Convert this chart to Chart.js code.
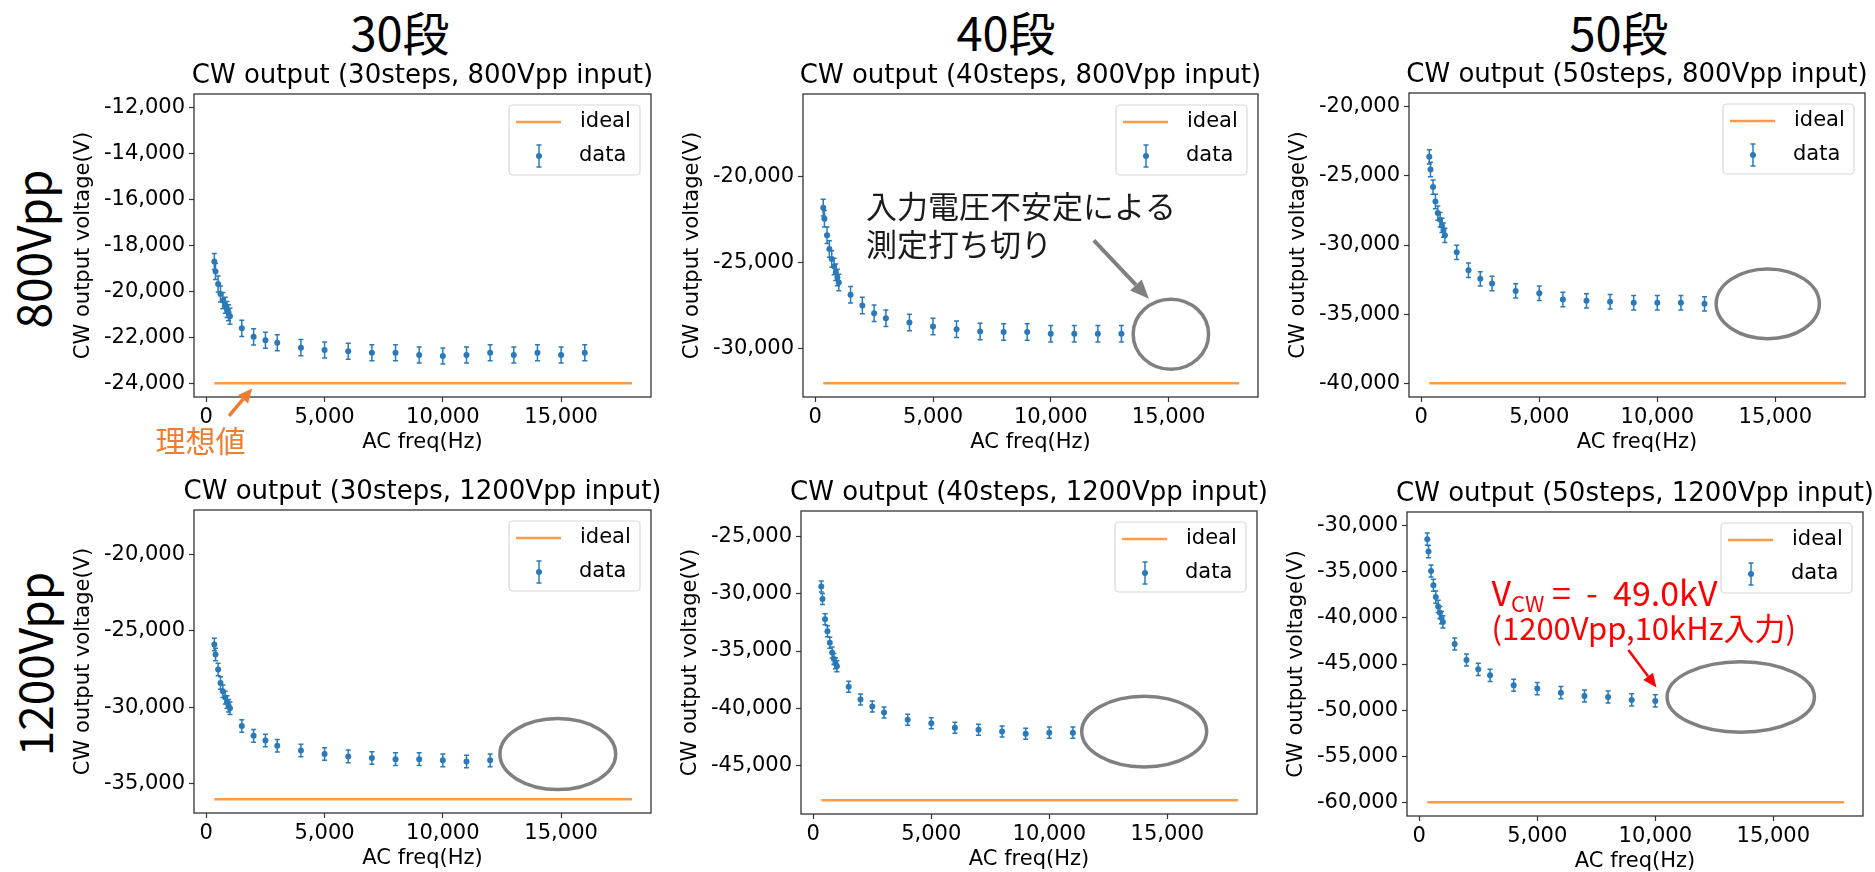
<!DOCTYPE html>
<html>
<head>
<meta charset="utf-8">
<script src="https://cdn.jsdelivr.net/npm/chart.js@4.4.1/dist/chart.umd.min.js"></script>
<style>
  body { margin: 0; background: #fff; width: 1875px; height: 872px; overflow: hidden; position: relative; font-family: "Noto Sans CJK JP", sans-serif; }
  .head { position: absolute; font-size: 47px; line-height: 1; color: #000; transform: translate(-50%, -50%); white-space: nowrap; }
  .row { position: absolute; font-size: 46px; line-height: 1; color: #000; transform: translate(-50%, -50%) rotate(-90deg); white-space: nowrap; }
  canvas { position: absolute; }
</style>
</head>
<body>
<div class="head" style="left:400px;top:30px">30段</div>
<div class="head" style="left:1006px;top:30px">40段</div>
<div class="head" style="left:1619px;top:30px">50段</div>
<div class="row" style="left:31px;top:249px">800Vpp</div>
<div class="row" style="left:33px;top:664px">1200Vpp</div>

<canvas id="c1"></canvas>
<canvas id="c2"></canvas>
<canvas id="c3"></canvas>
<canvas id="c4"></canvas>
<canvas id="c5"></canvas>
<canvas id="c6"></canvas>

<script>
// ---- data ----
const freq30_800 = [340, 390, 500, 600, 700, 800, 875, 940, 1000, 1500, 2000, 2500, 3000, 4000, 5000, 6000, 7000, 8000, 9000, 10000, 11000, 12000, 13000, 14000, 15000, 16000];
const volt30_800 = [-18700, -19130, -19680, -20110, -20400, -20600, -20790, -20930, -21080, -21610, -21980, -22130, -22240, -22450, -22550, -22610, -22670, -22670, -22770, -22810, -22770, -22670, -22770, -22670, -22770, -22670];

const freq40_800 = [340, 390, 500, 600, 700, 800, 875, 940, 1000, 1500, 2000, 2500, 3000, 4000, 5000, 6000, 7000, 8000, 9000, 10000, 11000, 12000, 13000];
const volt40_800 = [-21800, -22450, -23400, -24200, -24790, -25220, -25560, -25860, -26150, -26860, -27480, -27930, -28220, -28470, -28700, -28860, -28990, -29030, -29030, -29130, -29130, -29130, -29130];

const freq50_800 = [340, 390, 500, 600, 700, 800, 875, 940, 1000, 1500, 2000, 2500, 3000, 4000, 5000, 6000, 7000, 8000, 9000, 10000, 11000, 12000];
const volt50_800 = [-23620, -24540, -25810, -26850, -27690, -28170, -28580, -28920, -29300, -30530, -31830, -32450, -32790, -33320, -33490, -33940, -34040, -34110, -34180, -34180, -34180, -34260];

const freq30_1200 = [340, 390, 500, 600, 700, 800, 875, 940, 1000, 1500, 2000, 2500, 3000, 4000, 5000, 6000, 7000, 8000, 9000, 10000, 11000, 12000];
const volt30_1200 = [-25890, -26540, -27520, -28410, -28940, -29360, -29640, -29890, -30055, -31210, -31860, -32160, -32510, -32810, -33050, -33200, -33310, -33380, -33380, -33460, -33530, -33460];

const freq40_1200 = [340, 390, 500, 600, 700, 800, 875, 940, 1000, 1500, 2000, 2500, 3000, 4000, 5000, 6000, 7000, 8000, 9000, 10000, 11000];
const volt40_1200 = [-29380, -30460, -32230, -33270, -34280, -35120, -35700, -36070, -36330, -38120, -39220, -39830, -40350, -40980, -41300, -41680, -41850, -42020, -42200, -42110, -42110];

const freq50_1200 = [340, 390, 500, 600, 700, 800, 875, 940, 1000, 1500, 2000, 2500, 3000, 4000, 5000, 6000, 7000, 8000, 9000, 10000];
const volt50_1200 = [-31450, -32800, -34900, -36450, -37740, -38750, -39430, -39970, -40430, -42830, -44570, -45580, -46230, -47310, -47670, -48110, -48470, -48580, -48900, -49010];

// error bar half heights (V)
const err30_800 = 350, err40_800 = 480, err50_800 = 520;
const err30_1200 = 410, err40_1200 = 480, err50_1200 = 660;

// ideal line
const idealFreq = [340, 18000];
const ideal30_800 = -24000, ideal40_800 = -32000, ideal50_800 = -40000;
const ideal30_1200 = -36000, ideal40_1200 = -48000, ideal50_1200 = -60000;

// ticks
const xTicks = [0, 5000, 10000, 15000];
const yTicks30_800 = [-24000, -22000, -20000, -18000, -16000, -14000, -12000];
const yTicks40_800 = [-30000, -25000, -20000];
const yTicks50_800 = [-40000, -35000, -30000, -25000, -20000];
const yTicks30_1200 = [-35000, -30000, -25000, -20000];
const yTicks40_1200 = [-45000, -40000, -35000, -30000, -25000];
const yTicks50_1200 = [-60000, -55000, -50000, -45000, -40000, -35000, -30000];

const BLUE = "#2a7ab9";
const ORANGE = "#ff9b45";
const LATIN = "DejaVu Sans";
const CJK = "Noto Sans CJK JP";

function fmt(v) {
  return v === 0 ? "0" : v.toLocaleString("en-US");
}

function drawArrow(ctx, x1, y1, x2, y2, color, w, headLen, headW) {
  const a = Math.atan2(y2 - y1, x2 - x1);
  const bx = x2 - headLen * Math.cos(a), by = y2 - headLen * Math.sin(a);
  ctx.strokeStyle = color;
  ctx.lineWidth = w;
  ctx.beginPath(); ctx.moveTo(x1, y1); ctx.lineTo(bx, by); ctx.stroke();
  ctx.fillStyle = color;
  ctx.beginPath();
  ctx.moveTo(x2, y2);
  ctx.lineTo(bx + headW / 2 * Math.sin(a), by - headW / 2 * Math.cos(a));
  ctx.lineTo(bx - headW / 2 * Math.sin(a), by + headW / 2 * Math.cos(a));
  ctx.closePath(); ctx.fill();
}

// error bars under the points
const errorBars = {
  id: "errorBars",
  beforeDatasetsDraw(chart) {
    const ctx = chart.ctx, x = chart.scales.x, y = chart.scales.y;
    const err = chart.options.plugins.errorBars.err;
    const ds = chart.data.datasets[1];
    ctx.save();
    ctx.strokeStyle = BLUE;
    ctx.lineWidth = 1.5;
    ds.data.forEach(p => {
      const px = x.getPixelForValue(p.x);
      const top = y.getPixelForValue(p.y + err), bot = y.getPixelForValue(p.y - err);
      ctx.beginPath();
      ctx.moveTo(px, top); ctx.lineTo(px, bot);
      ctx.moveTo(px - 2.5, top); ctx.lineTo(px + 2.5, top);
      ctx.moveTo(px - 2.5, bot); ctx.lineTo(px + 2.5, bot);
      ctx.stroke();
    });
    ctx.restore();
  }
};

// frame, title, legend, notes
const decor = {
  id: "decor",
  afterDraw(chart) {
    const ctx = chart.ctx, a = chart.chartArea, o = chart.options.plugins.decor;
    const x = chart.scales.x, y = chart.scales.y;
    ctx.save();
    ctx.strokeStyle = "#333";
    ctx.lineWidth = 1.3;
    ctx.strokeRect(a.left, a.top, a.right - a.left, a.bottom - a.top);

    ctx.fillStyle = "#000";
    ctx.font = "26px '" + LATIN + "'";
    ctx.textAlign = "center";
    ctx.textBaseline = "middle";
    ctx.fillText(o.title, (a.left + a.right) / 2, a.top - 18);

    // legend
    const lx = a.right - 142, ly = a.top + 11;
    ctx.fillStyle = "rgba(255,255,255,0.8)";
    ctx.strokeStyle = "#d8d8d8";
    ctx.lineWidth = 1.2;
    ctx.beginPath();
    ctx.roundRect(lx, ly, 131, 70, 4);
    ctx.fill(); ctx.stroke();
    ctx.strokeStyle = ORANGE;
    ctx.lineWidth = 2.5;
    ctx.beginPath(); ctx.moveTo(lx + 7, ly + 17); ctx.lineTo(lx + 52, ly + 17); ctx.stroke();
    ctx.strokeStyle = BLUE;
    ctx.lineWidth = 1.5;
    const ex = lx + 30, ey = ly + 51;
    ctx.beginPath();
    ctx.moveTo(ex, ey - 11); ctx.lineTo(ex, ey + 11);
    ctx.moveTo(ex - 2.5, ey - 11); ctx.lineTo(ex + 2.5, ey - 11);
    ctx.moveTo(ex - 2.5, ey + 11); ctx.lineTo(ex + 2.5, ey + 11);
    ctx.stroke();
    ctx.fillStyle = BLUE;
    ctx.beginPath(); ctx.arc(ex, ey, 3, 0, Math.PI * 2); ctx.fill();
    ctx.fillStyle = "#000";
    ctx.font = "21px '" + LATIN + "'";
    ctx.textAlign = "left";
    ctx.fillText("ideal", lx + 71, ly + 17);
    ctx.fillText("data", lx + 70, ly + 51);

    (o.notes || []).forEach(n => {
      if (n.type === "ellipse") {
        const cx = x.getPixelForValue(n.x), cy = y.getPixelForValue(n.y);
        const rx = Math.abs(x.getPixelForValue(n.x + n.rx) - cx);
        const ry = Math.abs(y.getPixelForValue(n.y + n.ry) - cy);
        ctx.strokeStyle = "#808080";
        ctx.lineWidth = 3.5;
        ctx.beginPath(); ctx.ellipse(cx, cy, rx, ry, 0, 0, Math.PI * 2); ctx.stroke();
      } else if (n.type === "arrow") {
        drawArrow(ctx, x.getPixelForValue(n.x1), y.getPixelForValue(n.y1),
          x.getPixelForValue(n.x2), y.getPixelForValue(n.y2), n.color, n.w, n.head, n.headW);
      } else if (n.type === "text") {
        ctx.fillStyle = n.color;
        ctx.font = n.size + "px '" + CJK + "'";
        ctx.textAlign = n.align;
        ctx.textBaseline = "middle";
        ctx.fillText(n.text, x.getPixelForValue(n.x), y.getPixelForValue(n.y));
      } else if (n.type === "vcw") {
        let px = x.getPixelForValue(n.x);
        const py = y.getPixelForValue(n.y);
        ctx.fillStyle = n.color;
        ctx.textAlign = "left";
        ctx.textBaseline = "middle";
        ctx.font = n.size + "px '" + CJK + "'";
        ctx.fillText("V", px, py);
        px += ctx.measureText("V").width;
        ctx.font = Math.round(n.size * 0.66) + "px '" + CJK + "'";
        ctx.fillText("CW", px, py + 10);
        px += ctx.measureText("CW").width;
        ctx.font = n.size + "px '" + CJK + "'";
        ctx.fillText(" =  -  49.0kV", px, py);
      }
    });
    ctx.restore();
  }
};

function makePanel(id, box, freq, volt, err, ideal, yRange, yTicks, title, notes) {
  const cv = document.getElementById(id);
  const padTop = 45, yW = 150, xH = 65, padR = 10;
  cv.width = box.r - box.l + yW + padR;
  cv.height = box.b - box.t + padTop + xH;
  cv.style.left = (box.l - yW) + "px";
  cv.style.top = (box.t - padTop) + "px";
  const tickFont = { family: LATIN, size: 21 };
  new Chart(cv.getContext("2d"), {
    type: "scatter",
    data: {
      datasets: [
        {
          label: "ideal",
          data: idealFreq.map(f => ({ x: f, y: ideal })),
          showLine: true,
          borderColor: ORANGE,
          borderWidth: 2.5,
          pointRadius: 0
        },
        {
          label: "data",
          data: freq.map((f, i) => ({ x: f, y: volt[i] })),
          pointRadius: 3,
          pointBackgroundColor: BLUE,
          pointBorderWidth: 0,
          borderColor: BLUE
        }
      ]
    },
    options: {
      responsive: false,
      animation: false,
      devicePixelRatio: 1,
      layout: { padding: { left: 0, top: padTop, right: padR, bottom: 0 } },
      plugins: {
        legend: { display: false },
        tooltip: { enabled: false },
        errorBars: { err: err },
        decor: { title: title, notes: notes }
      },
      scales: {
        x: {
          type: "linear",
          min: -520,
          max: 18800,
          afterBuildTicks: s => { s.ticks = xTicks.map(v => ({ value: v })); },
          afterFit: s => { s.height = xH; },
          grid: { drawOnChartArea: false, drawTicks: true, tickLength: 5, color: "#333", tickWidth: 1.2 },
          border: { display: false },
          ticks: { font: tickFont, color: "#000", padding: 3, maxRotation: 0, autoSkip: false, callback: fmt },
          title: { display: true, text: "AC freq(Hz)", font: tickFont, color: "#000", padding: { top: 0, bottom: 7 } }
        },
        y: {
          type: "linear",
          min: yRange[0],
          max: yRange[1],
          afterBuildTicks: s => { s.ticks = yTicks.map(v => ({ value: v })); },
          afterFit: s => { s.width = yW; },
          grid: { drawOnChartArea: false, drawTicks: true, tickLength: 5, color: "#333", tickWidth: 1.2 },
          border: { display: false },
          ticks: { font: tickFont, color: "#000", padding: 4, autoSkip: false, callback: fmt },
          title: { display: true, text: "CW output voltage(V)", font: tickFont, color: "#000", padding: { top: 27, bottom: 0 } }
        }
      }
    },
    plugins: [errorBars, decor]
  });
}

makePanel("c1", { l: 194, t: 94, r: 651, b: 397 }, freq30_800, volt30_800, err30_800, ideal30_800,
  [-24600, -11400], yTicks30_800, "CW output (30steps, 800Vpp input)", [
    { type: "arrow", x1: 961, y1: -25420, x2: 1940, y2: -24230, color: "#ed7d31", w: 3.5, head: 14, headW: 13 },
    { type: "text", text: "理想値", x: -250, y: -26500, size: 30, color: "#ed7d31", align: "center" }
  ]);
makePanel("c2", { l: 803, t: 94, r: 1258, b: 397 }, freq40_800, volt40_800, err40_800, ideal40_800,
  [-32800, -15200], yTicks40_800, "CW output (40steps, 800Vpp input)", [
    { type: "text", text: "入力電圧不安定による", x: 2150, y: -21730, size: 31, color: "#1a1a1a", align: "left" },
    { type: "text", text: "測定打ち切り", x: 2150, y: -23950, size: 31, color: "#1a1a1a", align: "left" },
    { type: "arrow", x1: 11830, y1: -23700, x2: 14170, y2: -27090, color: "#808080", w: 4, head: 19, headW: 16 },
    { type: "ellipse", x: 15100, y: -29150, rx: 1600, ry: 2035 }
  ]);
makePanel("c3", { l: 1409, t: 93, r: 1865, b: 397 }, freq50_800, volt50_800, err50_800, ideal50_800,
  [-41000, -19000], yTicks50_800, "CW output (50steps, 800Vpp input)", [
    { type: "ellipse", x: 14680, y: -34255, rx: 2186, ry: 2524 }
  ]);
makePanel("c4", { l: 194, t: 510, r: 651, b: 813 }, freq30_1200, volt30_1200, err30_1200, ideal30_1200,
  [-36900, -17100], yTicks30_1200, "CW output (30steps, 1200Vpp input)", [
    { type: "ellipse", x: 14860, y: -33050, rx: 2447, ry: 2320 }
  ]);
makePanel("c5", { l: 801, t: 511, r: 1257, b: 814 }, freq40_1200, volt40_1200, err40_1200, ideal40_1200,
  [-49200, -22800], yTicks40_1200, "CW output (40steps, 1200Vpp input)", [
    { type: "ellipse", x: 14020, y: -42020, rx: 2646, ry: 3078 }
  ]);
makePanel("c6", { l: 1407, t: 512, r: 1863, b: 816 }, freq50_1200, volt50_1200, err50_1200, ideal50_1200,
  [-61500, -28500], yTicks50_1200, "CW output (50steps, 1200Vpp input)", [
    { type: "ellipse", x: 13620, y: -48580, rx: 3121, ry: 3831 },
    { type: "vcw", x: 3060, y: -37340, size: 34, color: "#ff0000" },
    { type: "text", text: "(1200Vpp,10kHz入力)", x: 3060, y: -41140, size: 31, color: "#ff0000", align: "left" },
    { type: "arrow", x1: 8860, y1: -43480, x2: 10050, y2: -47560, color: "#ff0000", w: 2.5, head: 14, headW: 12 }
  ]);
</script>
</body>
</html>
